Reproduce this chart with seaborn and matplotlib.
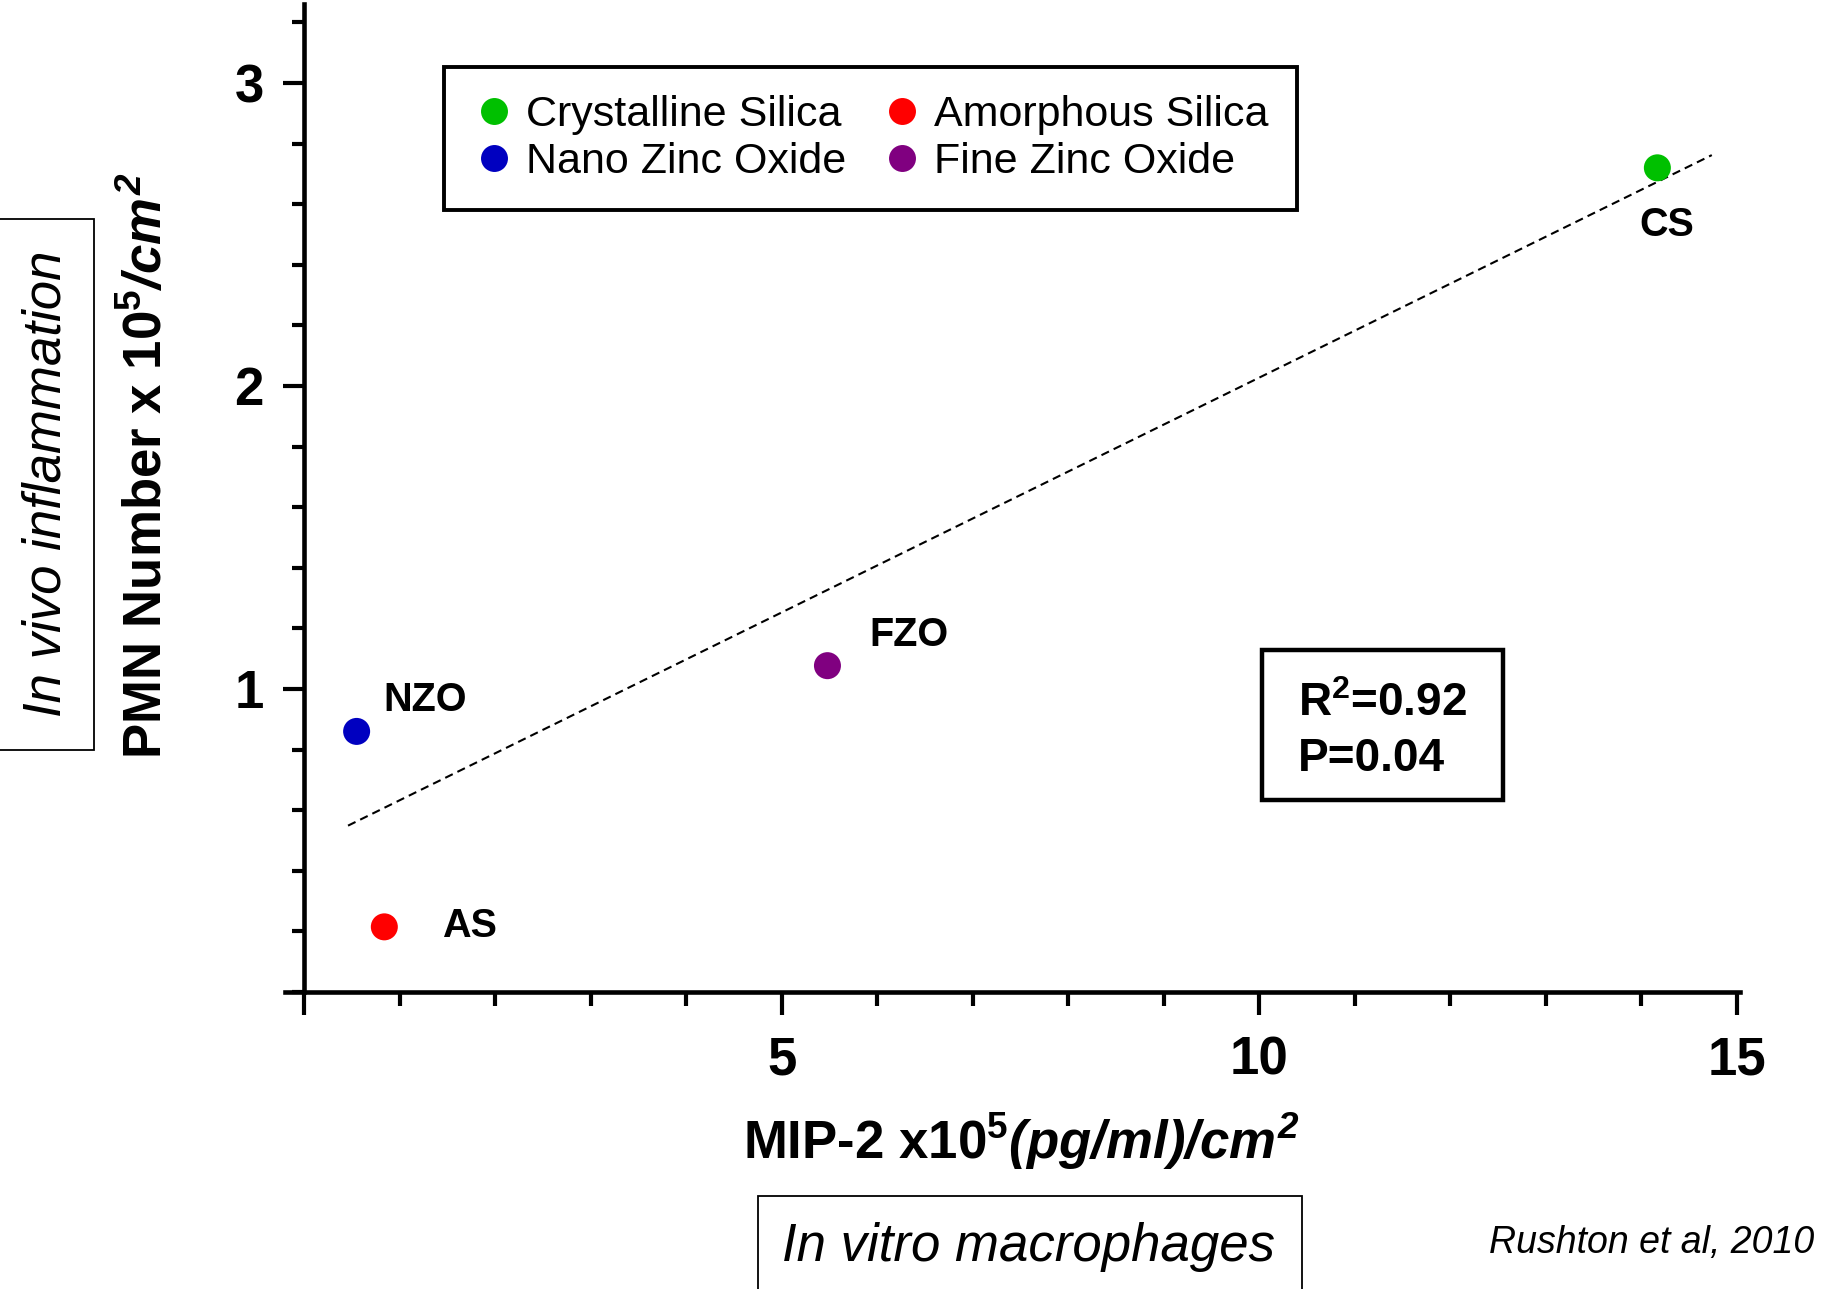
import numpy as np
import pandas as pd
import matplotlib
matplotlib.use("Agg")
import matplotlib.pyplot as plt
import seaborn as sns
from matplotlib.lines import Line2D
from matplotlib.patches import Rectangle
from matplotlib.ticker import MultipleLocator

# ---------------- data ----------------
materials = ["Crystalline Silica", "Amorphous Silica", "Nano Zinc Oxide", "Fine Zinc Oxide"]
abbrevs = ["CS", "AS", "NZO", "FZO"]
mip2 = [14.17, 0.84, 0.55, 5.48]          # MIP-2 x10^5 (pg/ml)/cm^2
pmn = [2.72, 0.215, 0.86, 1.077]          # PMN number x10^5 /cm^2
colors = ["#00C000", "#FF0000", "#0000C0", "#800080"]

fit_x = [0.46, 14.74]                     # regression line ends
fit_y = [0.549, 2.762]

xtick_values = [0, 5, 10, 15]
xtick_labels = ["", "5", "10", "15"]
ytick_values = [1, 2, 3]
ytick_labels = ["1", "2", "3"]

r2_lines = ["R$^{\\mathbf{2}}$=0.92", "P=0.04"]
xlabel = "MIP\u20102 x10$^{\\mathbf{5}}$$\\mathit{(pg/ml)/cm^{2}}$"
ylabel = "PMN Number x 10$^{\\mathbf{5}}$$\\mathit{/cm^{2}}$"
invivo_text = "In vivo inflammation"
invitro_text = "In vitro macrophages"
source_text = "Rushton et al, 2010"

# ---------------- style ----------------
sns.set_style("ticks")
plt.rcParams["font.family"] = ["Liberation Sans", "DejaVu Sans"]
plt.rcParams["mathtext.fontset"] = "custom"
plt.rcParams["mathtext.rm"] = "Liberation Sans:italic:bold"
plt.rcParams["mathtext.it"] = "Liberation Sans:italic:bold"
plt.rcParams["mathtext.bf"] = "Liberation Sans:bold"
for key in ["text.color", "axes.labelcolor", "xtick.color", "ytick.color",
            "axes.edgecolor", "xtick.labelcolor", "ytick.labelcolor"]:
    plt.rcParams[key] = "black"

W, H = 1839, 1289
fig = plt.figure(figsize=(W / 100, H / 100), dpi=100)
fig.patch.set_facecolor("white")

def fx(px):
    return px / W

def fy(py):
    return 1 - py / H

ax_left, ax_right, ax_top, ax_bottom = 285, 1739.5, 4.2, 992
ax = fig.add_axes([fx(ax_left), fy(ax_bottom), (ax_right - ax_left) / W, (ax_bottom - ax_top) / H])
ax.set_facecolor("white")

df = pd.DataFrame({"material": materials, "abbr": abbrevs, "mip2": mip2, "pmn": pmn})

sns.lineplot(x=fit_x, y=fit_y, ax=ax, color="black", lw=1.5,
             linestyle=(0, (4, 2.5)), zorder=2)
sns.scatterplot(data=df, x="mip2", y="pmn", hue="material",
                palette=dict(zip(materials, colors)), s=378, linewidth=0,
                legend=False, ax=ax, zorder=3)

# point labels
offsets = {"CS": (6.5, -49), "AS": (61, -7.2), "NZO": (49, 14.4), "FZO": (59, 14.4)}
for _, r in df.iterrows():
    ax.annotate(r["abbr"], (r["mip2"], r["pmn"]), xytext=offsets[r["abbr"]],
                textcoords="offset points", ha="center", va="baseline",
                fontsize=28.5, fontweight="bold", color="black")

# axes
ax.set_xlim(-0.2, 15.03)
ax.set_ylim(0, 3.26)
ax.spines["top"].set_visible(False)
ax.spines["right"].set_visible(False)
ax.spines["left"].set_position(("data", 0))
for s in ["left", "bottom"]:
    ax.spines[s].set_linewidth(3.3)
    ax.spines[s].set_color("black")

ax.set_xticks(xtick_values, labels=xtick_labels)
ax.set_yticks(ytick_values, labels=ytick_labels)
ax.xaxis.set_minor_locator(MultipleLocator(1))
ax.yaxis.set_minor_locator(MultipleLocator(0.2))
ax.tick_params(axis="both", which="both", direction="out", width=3, color="black",
               labelcolor="black")
ax.tick_params(axis="both", which="major", labelsize=38)
ax.tick_params(axis="x", which="major", length=16.5, pad=15)
ax.tick_params(axis="y", which="major", length=15, pad=14)
ax.tick_params(axis="x", which="minor", length=10)
ax.tick_params(axis="y", which="minor", length=8.6)
for lab in ax.get_xticklabels() + ax.get_yticklabels():
    lab.set_fontweight("bold")

ax.set_xlabel(xlabel, fontsize=38, fontweight="bold", va="baseline", color="black")
ax.xaxis.set_label_coords((1021.5 - ax_left) / (ax_right - ax_left),
                          (ax_bottom - 1159) / (ax_bottom - ax_top))
ax.set_ylabel(ylabel, fontsize=38, fontweight="bold", va="baseline", color="black")
ax.yaxis.set_label_coords((162 - ax_left) / (ax_right - ax_left),
                          (ax_bottom - 466) / (ax_bottom - ax_top))

# legend
handles = [Line2D([], [], marker="o", linestyle="none", markersize=19.4,
                  markerfacecolor=colors[i], markeredgewidth=0) for i in [0, 2, 1, 3]]
labels = [materials[i] for i in [0, 2, 1, 3]]
leg = ax.legend(handles, labels, ncol=2, loc="upper left",
                bbox_to_anchor=(fx(444), fy(67)), bbox_transform=fig.transFigure,
                fontsize=31, frameon=True, fancybox=False, framealpha=1,
                edgecolor="black", borderpad=0.65, handlelength=1.0,
                handletextpad=0.25, columnspacing=0.8, labelspacing=0.16,
                borderaxespad=0, labelcolor="black")
leg.get_frame().set_linewidth(2.8)

# R^2 box
fig.add_artist(Rectangle((fx(1262), fy(800)), (1503 - 1262) / W, (800 - 650) / H,
                         transform=fig.transFigure, fill=False, lw=3.2, ec="black"))
fig.text(fx(1298), fy(716), r2_lines[0], fontsize=33, fontweight="bold",
         ha="left", va="baseline", color="black")
fig.text(fx(1298), fy(771), r2_lines[1], fontsize=33, fontweight="bold",
         ha="left", va="baseline", color="black")

# in vivo box
fig.add_artist(Rectangle((fx(-10), fy(750)), (94 + 10) / W, (750 - 219) / H,
                         transform=fig.transFigure, fill=False, lw=1.3, ec="black"))
fig.text(fx(61), fy(484), invivo_text, fontsize=38, fontstyle="italic",
         rotation=90, rotation_mode="anchor", ha="center", va="baseline", color="black")

# in vitro box
fig.add_artist(Rectangle((fx(758), fy(1300)), (1302 - 758) / W, (1300 - 1196) / H,
                         transform=fig.transFigure, fill=False, lw=1.3, ec="black"))
fig.text(fx(1029), fy(1261), invitro_text, fontsize=38, fontstyle="italic",
         ha="center", va="baseline", color="black")

fig.text(fx(1814), fy(1253), source_text, fontsize=27, fontstyle="italic",
         ha="right", va="baseline", color="black")

fig.savefig("out.png", dpi=100, facecolor="white")
